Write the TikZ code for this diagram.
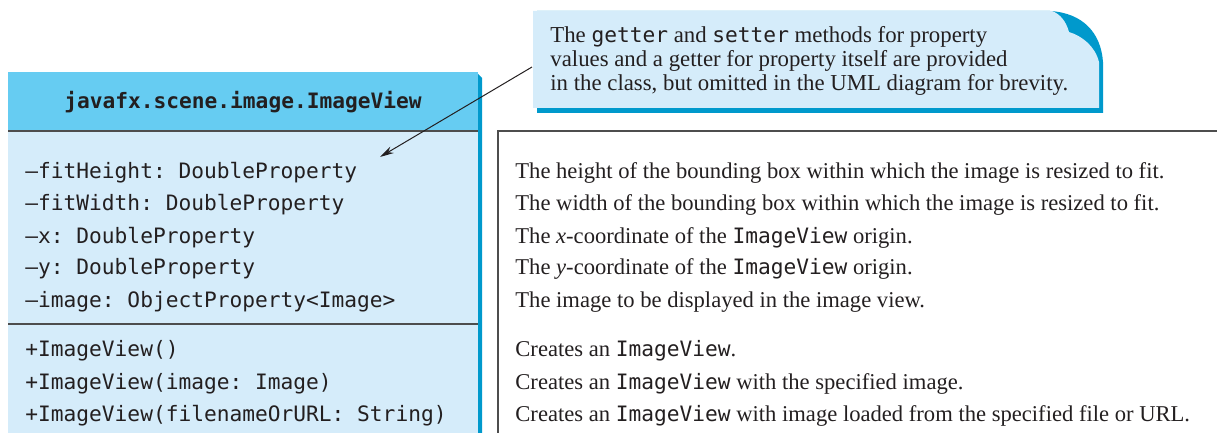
\documentclass[tikz,border=0pt]{standalone}
\usepackage{fontspec}
\setmainfont{Liberation Serif}
\setmonofont{DejaVu Sans Mono}
\usepackage{tikz}
\usetikzlibrary{arrows.meta}
\definecolor{headblue}{HTML}{66CCF2}
\definecolor{bodyblue}{HTML}{D5ECFA}
\definecolor{edgeblue}{HTML}{0099CC}
\definecolor{rulegray}{HTML}{4D4D4D}
\definecolor{ink}{HTML}{231F20}
\newcommand{\code}[1]{{\fontsize{10.6}{12}\selectfont\ttfamily #1}}
\tikzset{
  every picture/.style={
    line join=miter,
    >={Stealth[length=7pt,width=3.6pt]},
  },
  rule/.style={rulegray, line width=0.75pt},
  classname/.style={anchor=base, inner sep=0pt, text=ink,
    font=\fontsize{10.6}{12}\selectfont\ttfamily\bfseries},
  member/.style={anchor=base west, inner sep=0pt, text=ink,
    font=\fontsize{10.6}{12}\selectfont\ttfamily},
  descr/.style={anchor=base west, inner sep=0pt, text=ink,
    font=\fontsize{11.3}{12}\selectfont},
  notetext/.style={anchor=base west, inner sep=0pt, text=ink,
    font=\fontsize{11.4}{12}\selectfont},
}

\begin{document}
\begin{tikzpicture}[x=0.5pt,y=-0.5pt]
\useasboundingbox (0,0) rectangle (1217,433);

% class box
\fill[edgeblue] (478,74) -- (482,78) -- (482,433) -- (478,433) -- cycle;
\fill[headblue] (8,72) rectangle (478,131);
\fill[bodyblue] (8,131) rectangle (478,433);
\draw[rule] (8,131) -- (478,131);
\draw[rule] (8,324) -- (478,324);

\node[classname] (cname) at (243,109) {javafx.scene.image.ImageView};

\node[member] (fitheight) at (25,179) {–fitHeight: DoubleProperty};
\node[member] (fitwidth) at (25,211) {–fitWidth: DoubleProperty};
\node[member] (xprop) at (25,243) {–x: DoubleProperty};
\node[member] (yprop) at (25,275) {–y: DoubleProperty};
\node[member] (imgprop) at (25,307) {–image: ObjectProperty<Image>};
\node[member] (ctora) at (25,357) {+ImageView()};
\node[member] (ctorb) at (25,389) {+ImageView(image: Image)};
\node[member] (ctorc) at (25,421) {+ImageView(filenameOrURL: String)};

% description box
\draw[rule] (1217,131) -- (498,131) -- (498,433);

\node[descr] (dfitheight) at (515,179) {The height of the bounding box within which the image is resized to fit.};
\node[descr] (dfitwidth) at (515,211) {The width of the bounding box within which the image is resized to fit.};
\node[descr] (dxprop) at (515,243) {The \textit{x}-coordinate of the \code{ImageView} origin.};
\node[descr] (dyprop) at (515,275) {The \textit{y}-coordinate of the \code{ImageView} origin.};
\node[descr] (dimgprop) at (515,307) {The image to be displayed in the image view.};
\node[descr] (dctora) at (515,357) {Creates an \code{ImageView}.};
\node[descr] (dctorb) at (515,389) {Creates an \code{ImageView} with the specified image.};
\node[descr] (dctorc) at (515,421) {Creates an \code{ImageView} with image loaded from the specified file or URL.};

% note with curled corner
\fill[edgeblue] (537,113) -- (1103,113) -- (1103,62)
  .. controls (1101,33) and (1083,13) .. (1050,11) -- (537,11) -- cycle;
\fill[bodyblue] (533,11) -- (1052,11)
  .. controls (1060,14) and (1066,21) .. (1069,32)
  .. controls (1082,36) and (1095,46) .. (1099,62)
  -- (1099,108) -- (533,108) -- cycle;

\node[notetext] (notea) at (550,43) {The \code{getter} and \code{setter} methods for property};
\node[notetext] (noteb) at (550,67) {values and a getter for property itself are provided};
\node[notetext] (notec) at (550,91) {in the class, but omitted in the UML diagram for brevity.};

\coordinate (notetail) at (532,67);
\coordinate (arrowtip) at (380,157);
\draw[->, ink, line width=0.5pt] (notetail) -- (arrowtip);
\end{tikzpicture}
\end{document}
